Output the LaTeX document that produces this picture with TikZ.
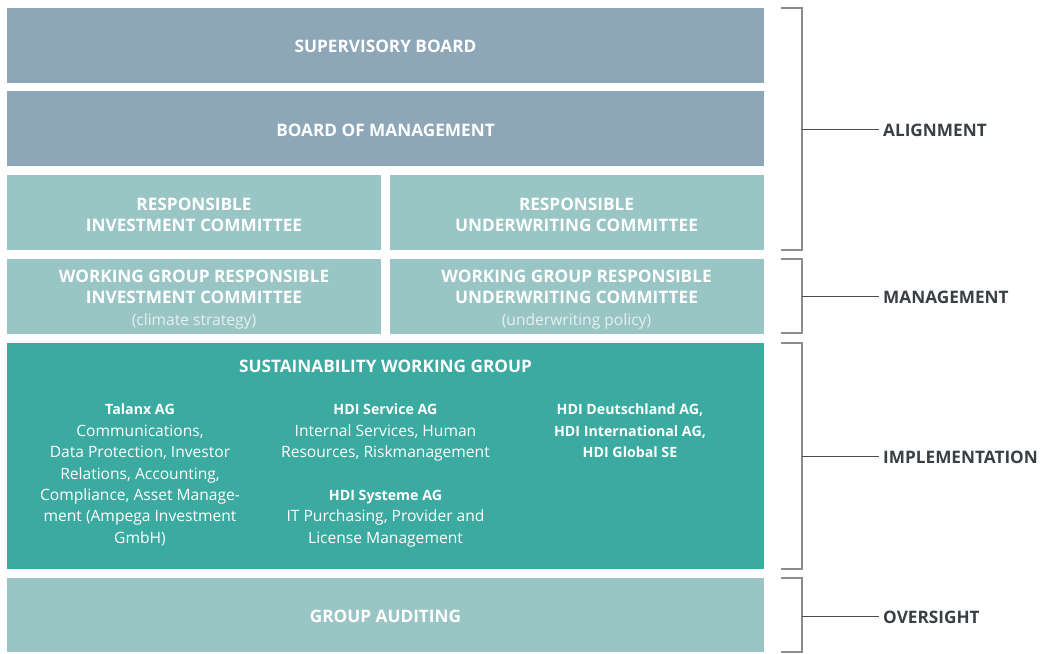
\documentclass[tikz,border=0pt]{standalone}
\usepackage{fontspec}
\setmainfont{Open Sans}
\usetikzlibrary{positioning}
\definecolor{slate}{HTML}{8DA7B9}
\definecolor{pale}{HTML}{9AC5C5}
\definecolor{deepteal}{HTML}{3BAAA0}
\definecolor{subtxt}{HTML}{E4F1F0}
\definecolor{brk}{HTML}{8C8C8C}
\definecolor{lbl}{HTML}{3A3F44}
\newcommand*{\fullw}{757pt}
\newcommand*{\halfw}{374pt}
\newcommand*{\rowh }{75pt}
\newcommand*{\capfont}{\bfseries\fontsize{17.2}{21}\selectfont}
\newcommand*{\txtfont}{\fontsize{15.6}{21.4}\selectfont}
\newcommand*{\namefont}{\bfseries\fontsize{14.2}{21.4}\selectfont}

\begin{document}
\begin{tikzpicture}[x=1pt, y=-1pt,
    tier/.style={fill=#1, draw=none, inner sep=0pt, minimum height=\rowh},
    tiertext/.style={text=white, font=\capfont, align=center, inner sep=0pt},
    col/.style={text=white, font=\txtfont, align=center, anchor=north, inner sep=0pt},
    phase/.style={text=lbl, font=\capfont, anchor=west, inner sep=0pt},
    brace/.style={draw=brk, line width=1.2pt},
    tick/.style={draw=lbl!80!brk, line width=1pt}]
    \useasboundingbox (0,0) rectangle (1043,653);
        \node [tier=slate, minimum width=\fullw] (sup) at (385.5,45) {};
        \node [tier=slate, minimum width=\fullw] (bom) at (385.5,128.5) {};
        \node [tier=pale, minimum width=\halfw] (ric) at (194,212.5) {};
        \node [tier=pale, minimum width=\halfw] (ruc) at (576.5,212.5) {};
        \node [tier=pale, minimum width=\halfw] (wgi) at (194,296) {};
        \node [tier=pale, minimum width=\halfw] (wgu) at (576.5,296) {};
        \node [tier=deepteal, minimum width=\fullw, minimum height=226pt] (swg) at (385.5,456) {};
        \node [tier=pale, minimum width=\fullw, minimum height=74pt] (audit) at (385.5,615) {};
        \node [tiertext] (supt) at ([shift={(0,1)}]sup.center) {SUPERVISORY BOARD};
        \node [tiertext] (bomt) at ([shift={(0,1.5)}]bom.center) {BOARD OF MANAGEMENT};
        \node [tiertext] (rict) at ([shift={(0,2)}]ric.center) {RESPONSIBLE\\INVESTMENT COMMITTEE};
        \node [tiertext] (ruct) at ([shift={(0,2)}]ruc.center) {RESPONSIBLE\\UNDERWRITING COMMITTEE};
        \node [tiertext] (wgit) at ([shift={(0,4)}]wgi.center) {WORKING GROUP RESPONSIBLE\\INVESTMENT COMMITTEE\\[1pt]{\color{subtxt}\mdseries\txtfont(climate strategy)}};
        \node [tiertext] (wgut) at ([shift={(0,4)}]wgu.center) {WORKING GROUP RESPONSIBLE\\UNDERWRITING COMMITTEE\\[1pt]{\color{subtxt}\mdseries\txtfont(underwriting policy)}};
        \node [tiertext] (swgt) at (385.5,366) {SUSTAINABILITY WORKING GROUP};
        \node [col] (talanx) at (140,404) {{\namefont Talanx AG}\\Communications,\\Data Protection, Investor\\Relations, Accounting,\\Compliance, Asset Manage-\\ment (Ampega Investment\\GmbH)};
        \node [col] (service) at (385.5,404) {{\namefont HDI Service AG}\\Internal Services, Human\\Resources, Riskmanagement};
        \node [col] (systeme) at (385.5,490) {{\namefont HDI Systeme AG}\\IT Purchasing, Provider and\\License Management};
        \node [col, font=\namefont] (hdi) at (630,404) {HDI Deutschland AG,\\HDI International AG,\\HDI Global SE};
        \node [tiertext] (auditt) at ([shift={(0,1.5)}]audit.center) {GROUP AUDITING};
        % brackets and phases
        \draw [brace] (781,8) -- (802,8) -- (802,250) -- (781,250);
        \draw [brace] (781,259) -- (802,259) -- (802,333) -- (781,333);
        \draw [brace] (781,343) -- (802,343) -- (802,569) -- (781,569);
        \draw [brace] (781,578) -- (802,578) -- (802,652) -- (781,652);
        \coordinate (alignc) at (802,129);
        \coordinate (mgmtc) at (802,296);
        \coordinate (implc) at (802,456);
        \coordinate (overc) at (802,616);
        \node [phase] (align) at (883,130) {ALIGNMENT};
        \node [phase] (mgmt) at (883,297) {MANAGEMENT};
        \node [phase] (impl) at (883,457) {IMPLEMENTATION};
        \node [phase] (over) at (883,617) {OVERSIGHT};
        \draw [tick] (alignc) -- ([xshift=-4pt]align.west |- alignc);
        \draw [tick] (mgmtc) -- ([xshift=-4pt]mgmt.west |- mgmtc);
        \draw [tick] (implc) -- ([xshift=-4pt]impl.west |- implc);
        \draw [tick] (overc) -- ([xshift=-4pt]over.west |- overc);
    \end{tikzpicture}
\end{document}
